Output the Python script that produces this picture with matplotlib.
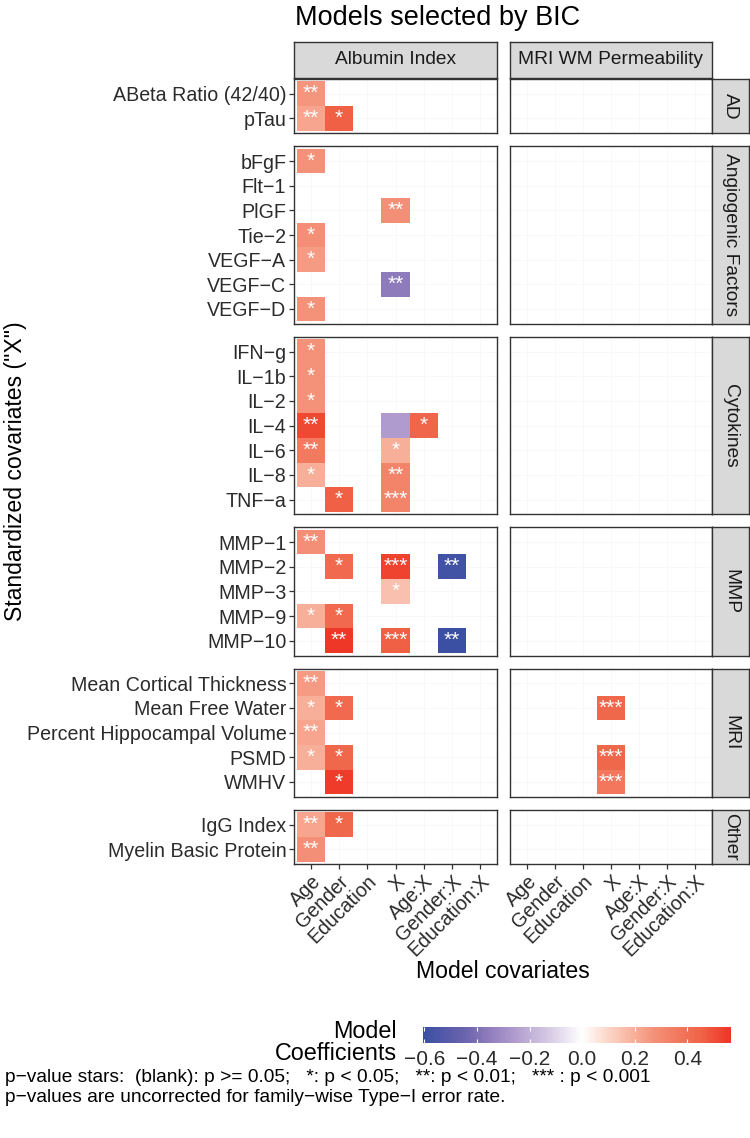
import numpy as np
import matplotlib
matplotlib.use("Agg")
import matplotlib.pyplot as plt
from matplotlib.colors import LinearSegmentedColormap, Normalize
import matplotlib.cm as cm

plt.rcParams['font.family'] = ['Liberation Sans', 'DejaVu Sans']

M = "\u2212"

# facets
outcomes = ["Albumin Index", "MRI WM Permeability"]
groups = ["AD", "Angiogenic Factors", "Cytokines", "MMP", "MRI", "Other"]
group_vars = [
    ["ABeta Ratio (42/40)", "pTau"],
    ["bFgF", "Flt" + M + "1", "PlGF", "Tie" + M + "2", "VEGF" + M + "A", "VEGF" + M + "C", "VEGF" + M + "D"],
    ["IFN" + M + "g", "IL" + M + "1b", "IL" + M + "2", "IL" + M + "4", "IL" + M + "6", "IL" + M + "8", "TNF" + M + "a"],
    ["MMP" + M + "1", "MMP" + M + "2", "MMP" + M + "3", "MMP" + M + "9", "MMP" + M + "10"],
    ["Mean Cortical Thickness", "Mean Free Water", "Percent Hippocampal Volume", "PSMD", "WMHV"],
    ["IgG Index", "Myelin Basic Protein"],
]
covariates = ["Age", "Gender", "Education", "X", "Age:X", "Gender:X", "Education:X"]

# selected model terms, Albumin Index
alb_var = ["ABeta Ratio (42/40)", "pTau", "pTau",
           "bFgF", "PlGF", "Tie" + M + "2", "VEGF" + M + "A", "VEGF" + M + "C", "VEGF" + M + "D",
           "IFN" + M + "g", "IL" + M + "1b", "IL" + M + "2", "IL" + M + "4", "IL" + M + "4", "IL" + M + "4",
           "IL" + M + "6", "IL" + M + "6", "IL" + M + "8", "IL" + M + "8", "TNF" + M + "a", "TNF" + M + "a",
           "MMP" + M + "1", "MMP" + M + "2", "MMP" + M + "2", "MMP" + M + "2", "MMP" + M + "3",
           "MMP" + M + "9", "MMP" + M + "9", "MMP" + M + "10", "MMP" + M + "10", "MMP" + M + "10",
           "Mean Cortical Thickness", "Mean Free Water", "Mean Free Water", "Percent Hippocampal Volume",
           "PSMD", "PSMD", "WMHV", "IgG Index", "IgG Index", "Myelin Basic Protein"]
alb_cov = ["Age", "Age", "Gender",
           "Age", "X", "Age", "Age", "X", "Age",
           "Age", "Age", "Age", "Age", "X", "Age:X",
           "Age", "X", "Age", "X", "Gender", "X",
           "Age", "Gender", "X", "Gender:X", "X",
           "Age", "Gender", "Gender", "X", "Gender:X",
           "Age", "Age", "Gender", "Age",
           "Age", "Gender", "Gender", "Age", "Gender", "Age"]
alb_coef = [0.26, 0.22, 0.46,
            0.27, 0.28, 0.28, 0.25, -0.36, 0.27,
            0.27, 0.27, 0.27, 0.52, -0.26, 0.44,
            0.36, 0.20, 0.20, 0.32, 0.46, 0.32,
            0.28, 0.42, 0.53, -0.58, 0.15,
            0.20, 0.42, 0.56, 0.46, -0.60,
            0.25, 0.20, 0.42, 0.22,
            0.20, 0.43, 0.55, 0.22, 0.43, 0.28]
alb_stars = ["**", "**", "*",
             "*", "**", "*", "*", "**", "*",
             "*", "*", "*", "**", "", "*",
             "**", "*", "*", "**", "*", "***",
             "**", "*", "***", "**", "*",
             "*", "*", "**", "***", "**",
             "**", "*", "*", "**",
             "*", "*", "*", "**", "*", "**"]

# selected model terms, MRI WM Permeability
mri_var = ["Mean Free Water", "PSMD", "WMHV"]
mri_cov = ["X", "X", "X"]
mri_coef = [0.43, 0.43, 0.37]
mri_stars = ["***", "***", "***"]

# colour scale
coef_min, coef_max = -0.605, 0.566
node_vals = [-0.605, -0.45, -0.36, -0.26, -0.12, 0.0, 0.1, 0.2, 0.27, 0.36, 0.45, 0.566]
node_cols = ["#3B4FA3", "#6A63AE", "#8E7BBB", "#AF9BCD", "#D8CCE6", "#FFFFFF",
             "#FCD5C8", "#F8AE98", "#F4927A", "#F27A5F", "#F06448", "#EE3526"]

W, H = 750, 1138
fig = plt.figure(figsize=(W / 100, H / 100), dpi=100)


def rect(x0, y0, x1, y1):
    return [x0 / W, 1 - y1 / H, (x1 - x0) / W, (y1 - y0) / H]


cmap = LinearSegmentedColormap.from_list(
    "coef", [((v - coef_min) / (coef_max - coef_min), c) for v, c in zip(node_vals, node_cols)])
norm = Normalize(coef_min, coef_max)

cells = {
    outcomes[0]: (alb_var, alb_cov, alb_coef, alb_stars),
    outcomes[1]: (mri_var, mri_cov, mri_coef, mri_stars),
}

col_x = [(294, 497), (510, 712)]
top, bottom, gap = 79, 864, 13
unit = (bottom - top - gap * (len(groups) - 1)) / sum(len(v) + 0.2 for v in group_vars)
row_y = []
y = top
for v in group_vars:
    h = (len(v) + 0.2) * unit
    row_y.append((y, y + h))
    y += h + gap

dark = "#333333"
txt = "#2B2B2B"
tick_fs = 14.1

for j, outcome in enumerate(outcomes):
    var_l, cov_l, coef_l, star_l = cells[outcome]
    # column strip
    sax = fig.add_axes(rect(col_x[j][0], 42, col_x[j][1], 78))
    sax.set_facecolor("#D9D9D9")
    sax.set_xticks([]); sax.set_yticks([])
    for s in sax.spines.values():
        s.set_color(dark); s.set_linewidth(1.0)
    sax.text(0.5, 0.5, outcome, ha="center", va="center", fontsize=13.8, color="#1A1A1A",
             transform=sax.transAxes)

    for i, grp in enumerate(groups):
        vars_ = group_vars[i]
        n = len(vars_)
        grid = np.full((n, len(covariates)), np.nan)
        labels = []
        for v, c, k, s in zip(var_l, cov_l, coef_l, star_l):
            if v in vars_:
                r, q = vars_.index(v), covariates.index(c)
                grid[r, q] = k
                labels.append((q, r, s))
        y0, y1 = row_y[i]
        ax = fig.add_axes(rect(col_x[j][0], y0, col_x[j][1], y1))
        ax.set_axisbelow(True)
        ax.grid(color="#F3F3F3", lw=0.4)
        ax.pcolormesh(np.arange(len(covariates) + 1) - 0.5, np.arange(n + 1) - 0.5,
                      np.ma.masked_invalid(grid), cmap=cmap, norm=norm)
        for q, r, s in labels:
            ax.text(q, r, s, ha="center", va="center", color="white", fontsize=15)
        ax.set_xlim(-0.6, len(covariates) - 0.4)
        ax.set_ylim(n - 0.4, -0.6)
        ax.set_xticks(range(len(covariates)))
        ax.set_yticks(range(n))
        for s in ax.spines.values():
            s.set_color(dark); s.set_linewidth(1.0)
        ax.tick_params(length=3.5, width=0.9, color=dark, labelcolor=txt, labelsize=tick_fs, pad=2)
        if j == 0:
            ax.set_yticklabels(vars_)
        else:
            ax.tick_params(axis="y", left=False, labelleft=False)
        if i == len(groups) - 1:
            ax.set_xticklabels(covariates, rotation=45, ha="right", va="top", rotation_mode="anchor")
        else:
            ax.tick_params(axis="x", bottom=False, labelbottom=False)

        if j == len(outcomes) - 1:
            rax = fig.add_axes(rect(712, y0, 749, y1))
            rax.set_facecolor("#D9D9D9")
            rax.set_xticks([]); rax.set_yticks([])
            for s in rax.spines.values():
                s.set_color(dark); s.set_linewidth(1.0)
            rax.text(0.5, 0.5, grp, ha="center", va="center", rotation=-90, fontsize=13.8,
                     color="#1A1A1A", transform=rax.transAxes)

# titles
fig.text(295 / W, 1 - 18 / H, "Models selected by BIC", ha="left", va="center", fontsize=19.5, color="black")
fig.text(503 / W, 1 - 971 / H, "Model covariates", ha="center", va="center", fontsize=16.6, color="black")
fig.text(16 / W, 1 - 471 / H, 'Standardized covariates ("X")', ha="center", va="center", rotation=90,
         fontsize=16.6, color="black")

# colour bar legend
cax = fig.add_axes(rect(423, 1027, 731, 1043))
cb = fig.colorbar(cm.ScalarMappable(norm=norm, cmap=cmap), cax=cax, orientation="horizontal")
cb.outline.set_visible(False)
ticks = [-0.6, -0.4, -0.2, 0.0, 0.2, 0.4]
cb.set_ticks(ticks)
cb.set_ticklabels([f"{t:.1f}".replace("-", M) for t in ticks])
cax.tick_params(axis="x", direction="in", length=3, width=0.8, color="white", labelcolor=txt,
                labelsize=15, pad=5, top=True)
fig.text(333 / W, 1 - 1031 / H, "Model", ha="left", va="center", fontsize=16.8, color="black")
fig.text(275 / W, 1 - 1054 / H, "Coefficients", ha="left", va="center", fontsize=16.8, color="black")

# caption
fig.text(5 / W, 1 - 1078 / H,
         "p" + M + "value stars:  (blank): p >= 0.05;   *: p < 0.05;   **: p < 0.01;   *** : p < 0.001",
         ha="left", va="center", fontsize=13.8, color="black")
fig.text(5 / W, 1 - 1098 / H,
         "p" + M + "values are uncorrected for family" + M + "wise Type" + M + "I error rate.",
         ha="left", va="center", fontsize=13.8, color="black")

fig.savefig("out.png", dpi=100)
